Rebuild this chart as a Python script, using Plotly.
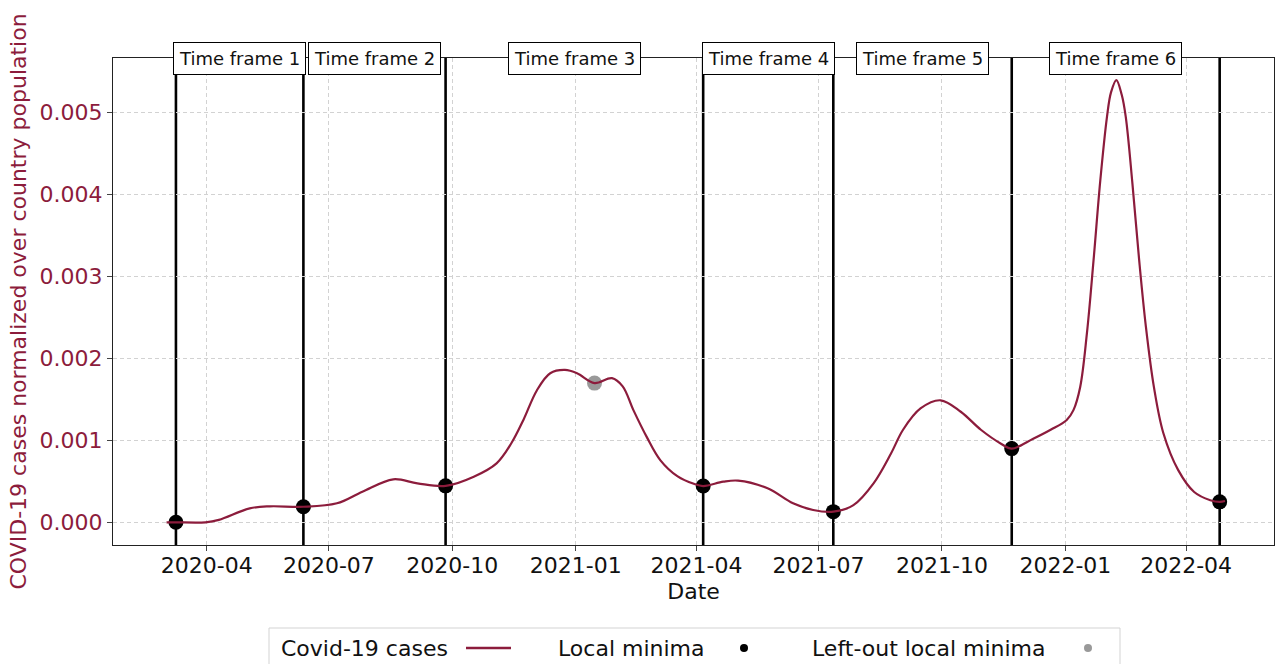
import pandas as pd
import plotly.graph_objects as go

# Smoothed daily COVID-19 cases normalised by the country population
case_dates = [
    "2020-03-02", "2020-03-09", "2020-03-31", "2020-04-10", "2020-05-03", "2020-05-18",
    "2020-06-12", "2020-07-07", "2020-07-26", "2020-08-18", "2020-09-05", "2020-09-26",
    "2020-10-17", "2020-11-03", "2020-11-14", "2020-11-23", "2020-12-03", "2020-12-13",
    "2020-12-24", "2021-01-02", "2021-01-15", "2021-01-28", "2021-02-05", "2021-02-13",
    "2021-02-23", "2021-03-05", "2021-03-18", "2021-03-30", "2021-04-06", "2021-04-21",
    "2021-05-02", "2021-05-24", "2021-06-12", "2021-06-27", "2021-07-12", "2021-07-27",
    "2021-08-11", "2021-08-24", "2021-09-02", "2021-09-15", "2021-09-30", "2021-10-15",
    "2021-10-30", "2021-11-14", "2021-11-22", "2021-12-08", "2021-12-21", "2022-01-02",
    "2022-01-07", "2022-01-12", "2022-01-17", "2022-01-22", "2022-01-27", "2022-02-01",
    "2022-02-04", "2022-02-08", "2022-02-12", "2022-02-15", "2022-02-20", "2022-02-25",
    "2022-03-02", "2022-03-08", "2022-03-15", "2022-03-26", "2022-04-07", "2022-04-19",
    "2022-04-26", "2022-04-30",
]
case_values = [
    0.0, 0.0, 0.0, 0.00003, 0.000171, 0.000195,
    0.00019, 0.000232, 0.000374, 0.000525, 0.000476, 0.000445,
    0.000557, 0.00072, 0.000965, 0.00125, 0.00161, 0.00182,
    0.00186, 0.00182, 0.0017, 0.00176, 0.00166, 0.00137,
    0.00104, 0.00076, 0.00056, 0.00047, 0.000443, 0.000496,
    0.000509, 0.000415, 0.000232, 0.00015, 0.00013, 0.00021,
    0.000476, 0.00084, 0.00113, 0.00139, 0.00149, 0.00135,
    0.00113, 0.00096, 0.0009, 0.00102, 0.00113, 0.00125,
    0.00137, 0.00165, 0.0023, 0.0032, 0.00417, 0.00495,
    0.00525, 0.0054, 0.00522, 0.00495, 0.00413, 0.0032,
    0.00239, 0.00165, 0.00109, 0.00064, 0.00037, 0.00027,
    0.00025, 0.00026,
]

# Local minima that delimit the time frames
minima_dates = ["2020-03-09", "2020-06-12", "2020-09-26", "2021-04-06",
                "2021-07-12", "2021-11-22", "2022-04-26"]
minima_values = [0.0, 0.00019, 0.000445, 0.000443, 0.00013, 0.0009, 0.00025]

# Local minima that were not used as time-frame boundaries
leftout_dates = ["2021-01-15"]
leftout_values = [0.0017]

frame_labels = ["Time frame 1", "Time frame 2", "Time frame 3",
                "Time frame 4", "Time frame 5", "Time frame 6"]

y_ticks = [0.0, 0.001, 0.002, 0.003, 0.004, 0.005]

CASE_COLOR = "#8c1c3c"
FONT = "DejaVu Sans"
W, H = 1276, 664
ML, MR, MT, MB = 113, 2, 58, 119
PLOT_W = W - ML - MR
PLOT_H = H - MT - MB


def paper_x(px):
    return (px - ML) / PLOT_W


def paper_y(py):
    return (H - MB - py) / PLOT_H


fig = go.Figure()

# markers first so the case curve is drawn over them
fig.add_trace(go.Scatter(
    x=leftout_dates, y=leftout_values, mode="markers", name="Left-out local minima",
    marker=dict(color="rgba(128,128,128,0.8)", size=15), showlegend=False,
))
fig.add_trace(go.Scatter(
    x=minima_dates, y=minima_values, mode="markers", name="Local minima",
    marker=dict(color="black", size=15), showlegend=False,
))
fig.add_trace(go.Scatter(
    x=case_dates, y=case_values, mode="lines", name="Covid-19 cases",
    line=dict(color=CASE_COLOR, width=2.2, shape="spline", smoothing=1.0),
    showlegend=False,
))

# vertical boundaries at each local minimum
for d in minima_dates:
    fig.add_shape(type="line", xref="x", yref="paper", x0=d, x1=d, y0=0, y1=1,
                  line=dict(color="black", width=2.6), layer="between")

# time-frame labels centred between consecutive minima
md = pd.to_datetime(pd.Series(minima_dates))
for i, label in enumerate(frame_labels):
    mid = md[i] + (md[i + 1] - md[i]) / 2
    fig.add_annotation(
        x=mid, y=1, xref="x", yref="paper", text=label, showarrow=False,
        xanchor="center", yanchor="middle",
        font=dict(family=FONT, size=18, color="#111"),
        bgcolor="white", bordercolor="black", borderwidth=1, borderpad=5,
    )

# legend drawn below the axes (label before its symbol)
leg_y = 648
fig.add_shape(type="rect", xref="paper", yref="paper",
              x0=paper_x(269), x1=paper_x(1120), y0=paper_y(628), y1=paper_y(680),
              line=dict(color="#d3d3d3", width=1), fillcolor="white", layer="above")
legend_items = [("Covid-19 cases", 279), ("Local minima", 556), ("Left-out local minima", 810)]
for text, lx in legend_items:
    fig.add_annotation(x=paper_x(lx), y=paper_y(leg_y), xref="paper", yref="paper",
                       text=text, showarrow=False, xanchor="left", yanchor="middle",
                       font=dict(family=FONT, size=22, color="#111"))
fig.add_shape(type="line", xref="paper", yref="paper",
              x0=paper_x(466), x1=paper_x(511), y0=paper_y(leg_y), y1=paper_y(leg_y),
              line=dict(color=CASE_COLOR, width=2.5), layer="above")
for cx, col in [(744, "black"), (1088, "rgba(128,128,128,0.8)")]:
    fig.add_shape(type="circle", xref="paper", yref="paper",
                  x0=paper_x(cx - 4), x1=paper_x(cx + 4),
                  y0=paper_y(leg_y + 4), y1=paper_y(leg_y - 4),
                  line=dict(width=0), fillcolor=col, layer="above")

grid = dict(showgrid=True, gridcolor="#d2d2d2", griddash="4px,3px", gridwidth=1)

fig.update_xaxes(
    range=["2020-01-22 02:00", "2022-06-05 12:00"],
    tick0="2020-01-01", dtick="M3", tickformat="%Y-%m",
    ticks="outside", ticklen=5, tickcolor="#444", tickwidth=1,
    ticklabelstandoff=-5,
    tickfont=dict(family=FONT, size=22, color="#111"),
    showline=True, mirror=True, linecolor="#222", linewidth=1.2,
    title=dict(text="Date", font=dict(family=FONT, size=22, color="#111"), standoff=7),
    zeroline=False, automargin=False, **grid,
)
fig.update_yaxes(
    range=[-0.000277, 0.005669],
    tickvals=y_ticks, tickformat=".3f",
    ticks="outside", ticklen=5, tickcolor="#444", tickwidth=1,
    tickfont=dict(family=FONT, size=22, color=CASE_COLOR),
    showline=True, mirror=True, linecolor="#222", linewidth=1.2,
    title=dict(text="COVID-19 cases normalized over country population",
               font=dict(family=FONT, size=22, color=CASE_COLOR), standoff=6),
    zeroline=False, automargin=False, **grid,
)

fig.update_layout(
    width=W, height=H,
    margin=dict(l=ML, r=MR, t=MT, b=MB),
    paper_bgcolor="white", plot_bgcolor="white",
    font=dict(family=FONT),
    showlegend=False,
)

fig.write_html("out.html")
